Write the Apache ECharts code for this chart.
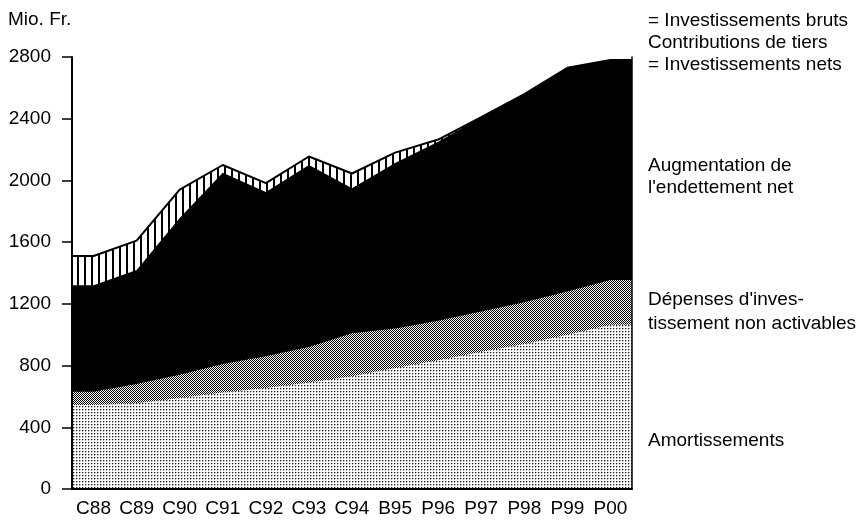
<!DOCTYPE html>
<html><head><meta charset="utf-8">
<script src="https://cdn.jsdelivr.net/npm/echarts@6/dist/echarts.min.js"></script>
<style>html,body{margin:0;padding:0;background:#fff}#c{width:865px;height:523px}</style>
</head><body><div id="c"></div>
<script>
// ---- data (Mio. Fr.) ----
const categories = ['C88','C89','C90','C91','C92','C93','C94','B95','P96','P97','P98','P99','P00'];
const amortissements        = [545, 555, 590, 625, 655, 690, 730, 785, 835, 890, 940, 1000, 1065];
const depensesNonActivables = [85, 125, 150, 185, 205, 230, 280, 255, 255, 260, 270, 280, 290];
const augmentationEndettement = [690, 740, 1016, 1240, 1065, 1180, 940, 1073, 1160, 1260, 1350, 1450, 1425];
const contributionsTiers    = [190, 190, 184, 50, 58, 55, 95, 67, 15, 0, 0, 0, 0];
const yMin = 0, yMax = 2800, yInterval = 400;

const FONT = '"Liberation Sans", Arial, sans-serif';
const FS = 19;

function pattern(w, h, draw) {
  const c = document.createElement('canvas');
  c.width = w; c.height = h;
  const ctx = c.getContext('2d');
  ctx.fillStyle = '#fff'; ctx.fillRect(0, 0, w, h);
  ctx.fillStyle = '#000';
  draw(ctx);
  return { image: c, repeat: 'repeat' };
}
const dotted = pattern(3, 3, ctx => {
  ctx.fillStyle = '#222'; ctx.fillRect(1, 1, 1, 1);
  ctx.fillStyle = '#aaa'; ctx.fillRect(2, 1, 1, 1); ctx.fillRect(1, 2, 1, 1);
});
const checker = pattern(2, 2, ctx => { ctx.fillRect(0, 0, 1, 1); ctx.fillRect(1, 1, 1, 1); });
const hatch = pattern(7, 1, ctx => { ctx.fillRect(0, 0, 2, 1); });

function cumulate(...arrs) {
  return arrs[0].map((_, i) => arrs.reduce((s, a) => s + a[i], 0));
}
const lvl1 = cumulate(amortissements);
const lvl2 = cumulate(amortissements, depensesNonActivables);
const lvl3 = cumulate(amortissements, depensesNonActivables, augmentationEndettement);
const lvl4 = cumulate(amortissements, depensesNonActivables, augmentationEndettement, contributionsTiers);

// values sit at band centres; the areas run flat to both plot edges
function toXY(arr) {
  const n = arr.length;
  return [[-0.5, arr[0]]].concat(arr.map((v, i) => [i, v])).concat([[n - 0.5, arr[n - 1]]]);
}
function area(name, arr, fill, z, line) {
  return {
    name, type: 'line', xAxisIndex: 1, data: toXY(arr), symbol: 'none', z,
    lineStyle: line ? { color: '#000', width: 2 } : { width: 0 },
    areaStyle: { color: fill, opacity: 1, origin: 'start' },
    silent: true, animation: false
  };
}

const chart = echarts.init(document.getElementById('c'), null, { renderer: 'canvas' });
chart.setOption({
  animation: false,
  grid: { left: 72, right: 233, top: 57, bottom: 34, containLabel: false },
  xAxis: [
    {
      type: 'category', data: categories, boundaryGap: true,
      axisLine: { onZero: false, lineStyle: { color: '#000', width: 2 } },
      axisTick: { alignWithLabel: true, length: 8, lineStyle: { color: '#000', width: 1.5 } },
      axisLabel: { color: '#000', fontFamily: FONT, fontSize: FS, margin: 10, interval: 0 },
      splitLine: { show: false }, z: 10
    },
    { type: 'value', min: -0.5, max: categories.length - 0.5, show: false }
  ],
  yAxis: [
    {
      type: 'value', min: yMin, max: yMax, interval: yInterval,
      axisLine: { show: true, onZero: false, lineStyle: { color: '#000', width: 2 } },
      axisTick: { show: true, length: 10, lineStyle: { color: '#000', width: 1.5 } },
      axisLabel: { color: '#000', fontFamily: FONT, fontSize: FS, margin: 21, formatter: v => String(v) },
      splitLine: { show: false }, z: 10
    },
    {
      type: 'value', min: yMin, max: yMax, interval: yInterval, position: 'right',
      axisLine: { show: true, onZero: false, lineStyle: { color: '#000', width: 1.5 } },
      axisTick: { show: false }, axisLabel: { show: false }, splitLine: { show: false }, z: 10
    }
  ],
  series: [
    area('Contributions de tiers', lvl4, hatch, 1, true),
    area("Augmentation de l'endettement net", lvl3, '#000', 2, false),
    area("Dépenses d'investissement non activables", lvl2, checker, 3, false),
    area('Amortissements', lvl1, dotted, 4, false)
  ],
  graphic: [
    { type: 'text', left: 8, top: 10, style: { text: 'Mio. Fr.', font: `${FS}px ${FONT}`, fill: '#000' } },
    { type: 'text', left: 648, top: 10, style: { text: '= Investissements bruts\nContributions de tiers\n= Investissements nets', font: `${FS}px ${FONT}`, fill: '#000', lineHeight: 22 } },
    { type: 'text', left: 648, top: 155, style: { text: "Augmentation de\nl'endettement net", font: `${FS}px ${FONT}`, fill: '#000', lineHeight: 22 } },
    { type: 'text', left: 648, top: 288, style: { text: "Dépenses d'inves-\ntissement non activables", font: `${FS}px ${FONT}`, fill: '#000', lineHeight: 24 } },
    { type: 'text', left: 648, top: 431, style: { text: 'Amortissements', font: `${FS}px ${FONT}`, fill: '#000' } }
  ]
});
</script>
</body></html>
